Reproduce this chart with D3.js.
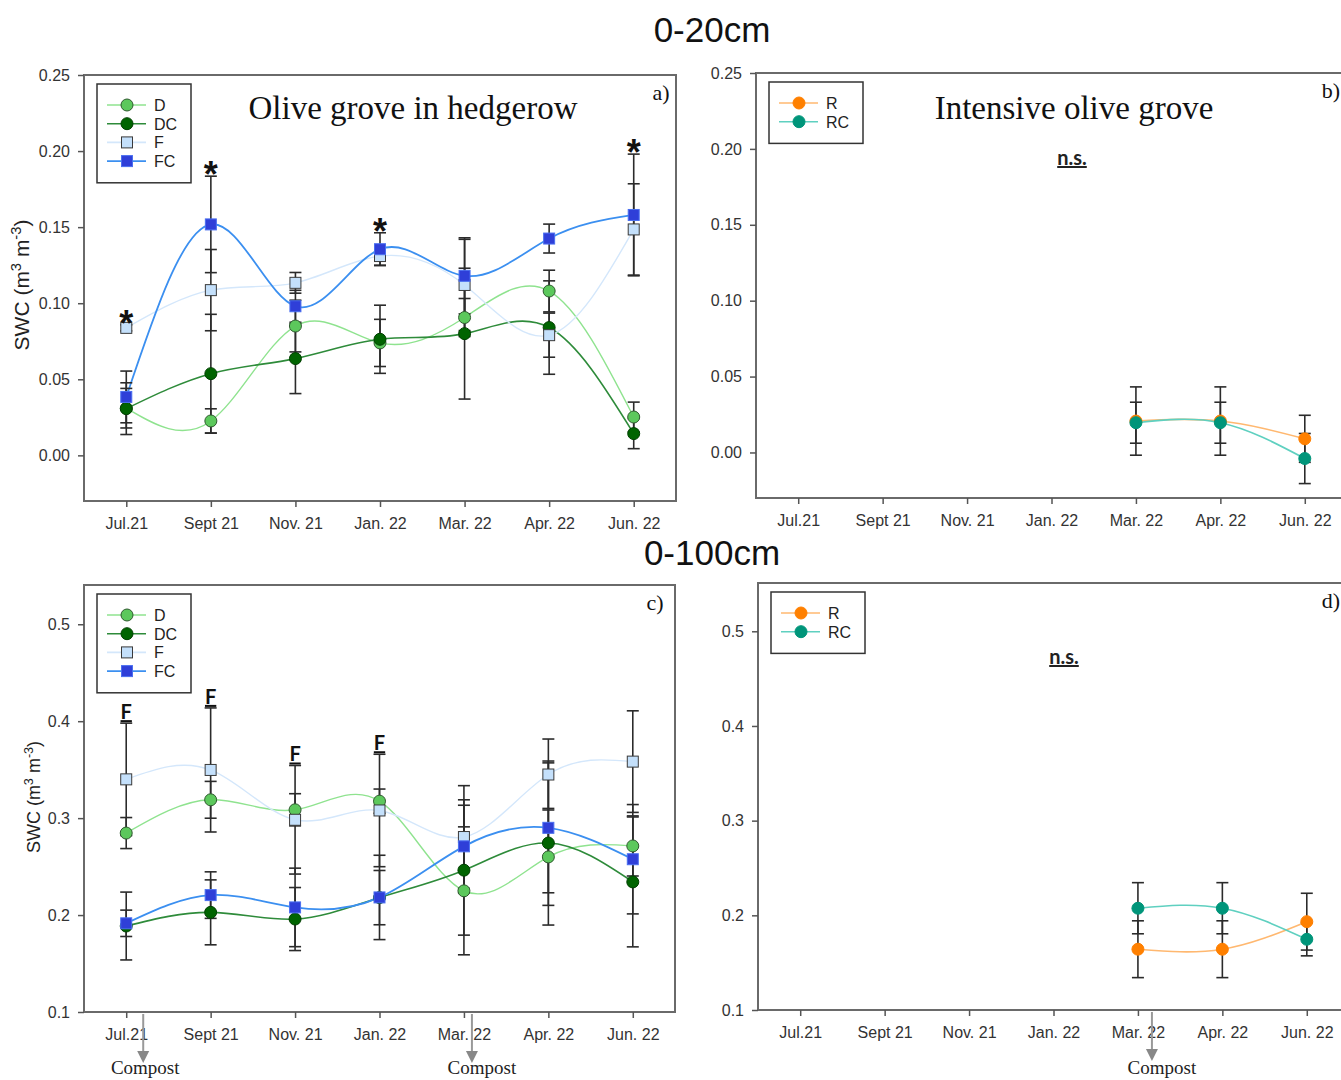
<!DOCTYPE html>
<html>
<head>
<meta charset="utf-8">
<script src="https://cdn.jsdelivr.net/npm/d3@7"></script>
<style>
body { margin: 0; background: #fff; }
text { font-family: "Liberation Sans", Arial, sans-serif; }
</style>
</head>
<body>
<script>
// Sampling dates (x categories)
var months = ["Jul.21", "Sept 21", "Nov. 21", "Jan. 22", "Mar. 22", "Apr. 22", "Jun. 22"];

// 0-20cm, olive grove in hedgerow
var aD      = [0.031, 0.0226, 0.085, 0.0739, 0.0906, 0.108, 0.0252];
var aDErr   = [0.013, 0.008, 0.017, 0.0155, 0.0125, 0.0137, 0.0098];
var aDC     = [0.0307, 0.0537, 0.0636, 0.0763, 0.080, 0.084, 0.0143];
var aDCErr  = [0.017, 0.039, 0.023, 0.0224, 0.043, 0.0307, 0.0099];
var aF      = [0.0838, 0.1086, 0.1134, 0.131, 0.112, 0.079, 0.1485];
var aFErr   = [0.002, 0.0267, 0.0068, 0.006, 0.03, 0.0145, 0.03];
var aFC     = [0.0384, 0.1518, 0.098, 0.1355, 0.118, 0.1425, 0.158];
var aFCErr  = [0.017, 0.0317, 0.0105, 0.0108, 0.025, 0.0095, 0.04];
var aStars  = ["Jul.21", "Sept 21", "Jan. 22", "Jun. 22"];

// 0-20cm, intensive olive grove
var bR      = [null, null, null, null, 0.0207, 0.0207, 0.009];
var bRErr   = [null, null, null, null, 0.0225, 0.0225, 0.0155];
var bRC     = [null, null, null, null, 0.0196, 0.0196, -0.004];
var bRCErr  = [null, null, null, null, 0.0135, 0.0135, 0.0165];

// 0-100cm, olive grove in hedgerow
var cD      = [0.2846, 0.3189, 0.3086, 0.3175, 0.225, 0.260, 0.2713];
var cDErr   = [0.016, 0.019, 0.0166, 0.0125, 0.066, 0.050, 0.031];
var cDC     = [0.1887, 0.2028, 0.1959, 0.218, 0.2463, 0.2743, 0.2342];
var cDCErr  = [0.035, 0.0335, 0.0325, 0.028, 0.067, 0.0846, 0.067];
var cF      = [0.340, 0.3497, 0.2983, 0.3079, 0.2805, 0.345, 0.3583];
var cFErr   = [0.058, 0.064, 0.056, 0.058, 0.053, 0.0366, 0.0524];
var cFC     = [0.1915, 0.2206, 0.2079, 0.2182, 0.2709, 0.290, 0.2576];
var cFCErr  = [0.0136, 0.024, 0.0405, 0.0435, 0.048, 0.067, 0.0564];
var cFmarks = ["Jul.21", "Sept 21", "Nov. 21", "Jan. 22"];

// 0-100cm, intensive olive grove
var dR      = [null, null, null, null, 0.1642, 0.1642, 0.1933];
var dRErr   = [null, null, null, null, 0.030, 0.030, 0.030];
var dRC     = [null, null, null, null, 0.2075, 0.2075, 0.1747];
var dRCErr  = [null, null, null, null, 0.027, 0.027, 0.0175];

var ticks020  = [0, 0.05, 0.10, 0.15, 0.20, 0.25];
var ticks0100 = [0.1, 0.2, 0.3, 0.4, 0.5];

//Series styles
var styles = {
	D:  {line: "#8fe38f", fill: "#5cc85c", stroke: "#2f5a2f", shape: "circle", lw: 1.4},
	DC: {line: "#2e8b3a", fill: "#006400", stroke: "#004000", shape: "circle", lw: 1.6},
	F:  {line: "#d4e7fb", fill: "#c4e0fb", stroke: "#3a3a3a", shape: "square", lw: 1.4},
	FC: {line: "#3b8ff0", fill: "#2f3fd8", stroke: "#4a6ff0", shape: "square", lw: 1.8},
	R:  {line: "#ffb870", fill: "#ff8000", stroke: "#ff8000", shape: "circle", lw: 1.6},
	RC: {line: "#5fd0c0", fill: "#00957a", stroke: "#00957a", shape: "circle", lw: 1.6}
};

var svg = d3.select("body")
	.append("svg")
	.attr("width", 1341)
	.attr("height", 1080);

function marker(sel, st, cx, cy) {
	if (st.shape == "circle") {
		sel.append("circle")
			.attr("cx", cx).attr("cy", cy).attr("r", 6)
			.attr("fill", st.fill).attr("stroke", st.stroke).attr("stroke-width", 1);
	} else {
		sel.append("rect")
			.attr("x", cx - 5.5).attr("y", cy - 5.5).attr("width", 11).attr("height", 11)
			.attr("fill", st.fill).attr("stroke", st.stroke).attr("stroke-width", 1);
	}
}

function drawPanel(p) {
	var g = svg.append("g");
	var x = d3.scalePoint().domain(months).range([p.left, p.right]).padding(0.5);
	var y = d3.scaleLinear().domain(p.domain).range([p.bottom, p.top]);

	//Frame
	g.append("rect")
		.attr("x", p.left).attr("y", p.top)
		.attr("width", p.right - p.left).attr("height", p.bottom - p.top)
		.attr("fill", "none").attr("stroke", "#6a6a6a").attr("stroke-width", 2);

	//Axes
	var yAxis = d3.axisLeft(y).tickValues(p.ticks).tickSize(6).tickPadding(8)
		.tickFormat(d3.format(p.fmt));
	var ya = g.append("g").attr("transform", "translate(" + p.left + ",0)").call(yAxis);
	var xAxis = d3.axisBottom(x).tickSize(6).tickPadding(11);
	var xa = g.append("g").attr("transform", "translate(0," + p.bottom + ")").call(xAxis);
	[ya, xa].forEach(function(a) {
		a.select(".domain").remove();
		a.selectAll("line").attr("stroke", "#555").attr("stroke-width", 1.5);
		a.selectAll("text").attr("fill", "#333").style("font-size", "16px")
			.style("font-family", "'Liberation Sans', Arial, sans-serif");
	});

	var line = d3.line()
		.x(function(d) { return x(d.m); })
		.y(function(d) { return y(d.v); })
		.curve(d3.curveNatural);

	var sets = p.series.map(function(s) {
		return {
			key: s.key,
			pts: months.map(function(m, i) { return {m: m, v: s.values[i], e: s.errors[i]}; })
				.filter(function(d) { return d.v != null; })
		};
	});

	//Lines
	sets.forEach(function(s) {
		g.append("path").datum(s.pts)
			.attr("d", line)
			.attr("fill", "none")
			.attr("stroke", styles[s.key].line)
			.attr("stroke-width", styles[s.key].lw);
	});

	//Error bars
	sets.forEach(function(s) {
		s.pts.forEach(function(d) {
			var cx = x(d.m);
			var eb = g.append("g").attr("stroke", "#2b2b2b").attr("stroke-width", 1.6);
			eb.append("line").attr("x1", cx).attr("x2", cx).attr("y1", y(d.v + d.e)).attr("y2", y(d.v - d.e));
			[d.v + d.e, d.v - d.e].forEach(function(v) {
				eb.append("line").attr("x1", cx - 6).attr("x2", cx + 6).attr("y1", y(v)).attr("y2", y(v));
			});
		});
	});

	//Markers
	sets.forEach(function(s) {
		s.pts.forEach(function(d) { marker(g, styles[s.key], x(d.m), y(d.v)); });
	});

	//Legend
	var lg = g.append("g");
	lg.append("rect")
		.attr("x", p.left + 13).attr("y", p.top + 9)
		.attr("width", 94).attr("height", p.series.length * 18.7 + 24)
		.attr("fill", "#fff").attr("stroke", "#333").attr("stroke-width", 1.5);
	p.series.forEach(function(s, i) {
		var ly = p.top + 30 + i * 18.7;
		lg.append("line").attr("x1", p.left + 23).attr("x2", p.left + 62)
			.attr("y1", ly).attr("y2", ly)
			.attr("stroke", styles[s.key].line).attr("stroke-width", 1.6);
		marker(lg, styles[s.key], p.left + 43, ly);
		lg.append("text").attr("x", p.left + 70).attr("y", ly + 6)
			.attr("fill", "#222").style("font-size", "16px").text(s.key);
	});

	//Top of the error bars, used for significance marks
	function topAt(m) {
		var i = months.indexOf(m);
		return d3.max(p.series, function(s) { return s.values[i] == null ? null : s.values[i] + s.errors[i]; });
	}

	if (p.stars) {
		p.stars.forEach(function(m) {
			g.append("text")
				.attr("x", x(m)).attr("y", y(topAt(m)) + 11)
				.attr("text-anchor", "middle")
				.style("font-size", "36px").style("font-weight", "bold")
				.attr("fill", "#111").text("*");
		});
	}
	if (p.fmarks) {
		p.fmarks.forEach(function(m) {
			g.append("text")
				.attr("x", x(m)).attr("y", y(topAt(m)) - 4)
				.attr("text-anchor", "middle")
				.style("font-family", "Lato, 'Open Sans', sans-serif")
				.style("font-size", "20px").style("font-weight", "bold")
				.style("text-decoration", "underline")
				.attr("fill", "#111").text("F");
		});
	}
	if (p.ns) {
		g.append("text")
			.attr("x", p.ns[0]).attr("y", p.ns[1])
			.attr("text-anchor", "middle")
			.style("font-family", "Lato, 'Open Sans', sans-serif")
			.style("font-size", "20px").style("font-weight", "bold")
			.style("text-decoration", "underline")
			.attr("fill", "#222").text("n.s.");
	}
	if (p.title) {
		g.append("text")
			.attr("x", p.title[1]).attr("y", 119)
			.attr("text-anchor", "middle")
			.style("font-family", "'Liberation Serif', 'Times New Roman', serif")
			.style("font-size", "33px").attr("fill", "#111").text(p.title[0]);
	}
	g.append("text")
		.attr("x", p.tag[1]).attr("y", p.top + 25)
		.attr("text-anchor", "middle")
		.style("font-family", "'Liberation Serif', 'Times New Roman', serif")
		.style("font-size", "22px").attr("fill", "#111").text(p.tag[0]);

	//Compost application arrows
	if (p.compost) {
		p.compost.forEach(function(c) {
			var cx = x(c[0]) + c[1];
			g.append("line").attr("x1", cx).attr("x2", cx)
				.attr("y1", p.bottom + 2).attr("y2", p.bottom + 40)
				.attr("stroke", "#999").attr("stroke-width", 2);
			g.append("path")
				.attr("d", "M" + (cx - 6) + "," + (p.bottom + 39) + "L" + (cx + 6) + "," + (p.bottom + 39) + "L" + cx + "," + (p.bottom + 51) + "Z")
				.attr("fill", "#888");
			g.append("text")
				.attr("x", cx + c[2]).attr("y", 1074)
				.attr("text-anchor", "middle")
				.style("font-family", "'Liberation Serif', 'Times New Roman', serif")
				.style("font-size", "19px").attr("fill", "#222").text("Compost");
		});
	}

	//Y axis label
	if (p.ylabel) {
		var t = g.append("text")
			.attr("transform", "translate(" + p.ylabel[0] + "," + p.ylabel[1] + ") rotate(-90)")
			.attr("text-anchor", "middle")
			.style("font-size", p.ylabel[2] + "px").attr("fill", "#222");
		t.append("tspan").text("SWC (m");
		t.append("tspan").attr("baseline-shift", "super").style("font-size", "70%").text("3");
		t.append("tspan").text(" m");
		t.append("tspan").attr("baseline-shift", "super").style("font-size", "70%").text("-3");
		t.append("tspan").text(")");
	}
}

//Depth headers
svg.append("text").attr("x", 712).attr("y", 42).attr("text-anchor", "middle")
	.style("font-size", "35px").attr("fill", "#111").text("0-20cm");
svg.append("text").attr("x", 712).attr("y", 565).attr("text-anchor", "middle")
	.style("font-size", "35px").attr("fill", "#111").text("0-100cm");

var hedgeA = [
	{key: "D", values: aD, errors: aDErr},
	{key: "DC", values: aDC, errors: aDCErr},
	{key: "F", values: aF, errors: aFErr},
	{key: "FC", values: aFC, errors: aFCErr}
];
var hedgeC = [
	{key: "D", values: cD, errors: cDErr},
	{key: "DC", values: cDC, errors: cDCErr},
	{key: "F", values: cF, errors: cFErr},
	{key: "FC", values: cFC, errors: cFCErr}
];

drawPanel({left: 84, right: 676, top: 75, bottom: 501, domain: [-0.03, 0.25], ticks: ticks020, fmt: ".2f",
	series: hedgeA, stars: aStars, title: ["Olive grove in hedgerow", 413], tag: ["a)", 661],
	ylabel: [29, 285, 21]});
drawPanel({left: 756, right: 1347, top: 73, bottom: 498, domain: [-0.03, 0.25], ticks: ticks020, fmt: ".2f",
	series: [{key: "R", values: bR, errors: bRErr}, {key: "RC", values: bRC, errors: bRCErr}],
	ns: [1072, 165], title: ["Intensive olive grove", 1074], tag: ["b)", 1331]});
drawPanel({left: 84, right: 675, top: 585, bottom: 1012, domain: [0.1, 0.5405], ticks: ticks0100, fmt: ".1f",
	series: hedgeC, fmarks: cFmarks, tag: ["c)", 655], ylabel: [40, 797, 18],
	compost: [["Jul.21", 17, 2], ["Mar. 22", 8, 10]]});
drawPanel({left: 758, right: 1349, top: 583, bottom: 1010, domain: [0.1, 0.551], ticks: ticks0100, fmt: ".1f",
	series: [{key: "R", values: dR, errors: dRErr}, {key: "RC", values: dRC, errors: dRCErr}],
	ns: [1064, 664], tag: ["d)", 1331], compost: [["Mar. 22", 14, 10]]});
</script>
</body>
</html>
